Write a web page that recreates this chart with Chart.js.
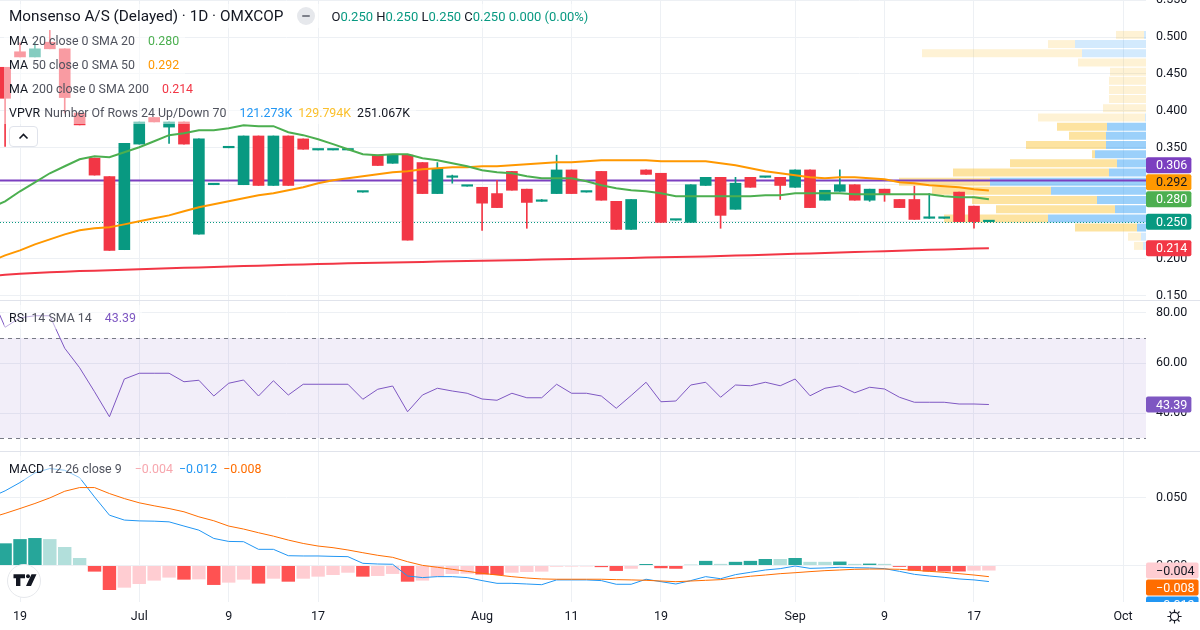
<!DOCTYPE html>
<html>
<head>
<meta charset="utf-8">
<title>Monsenso A/S · 1D · OMXCOP</title>
<script src="https://cdn.jsdelivr.net/npm/chart.js@4.4.1/dist/chart.umd.min.js"></script>
<style>
html,body{margin:0;padding:0;background:#fff;}
#wrap{position:relative;width:1200px;height:630px;overflow:hidden;background:#fff;font-family:"Trebuchet MS",Roboto,"Noto Sans",sans-serif;color:#131722;}
#wrap canvas{position:absolute;left:0;}
.sep{position:absolute;left:0;width:1200px;height:1px;background:#e0e3eb;}
.lg{position:absolute;left:4px;height:24px;padding:0 6px 0 5px;display:flex;align-items:center;white-space:nowrap;font-size:12.4px;background:rgba(255,255,255,0.5);}
.nm{color:#131722;}
.ar{color:#50535e;margin-left:4px;}
.v1{margin-left:13px;}
.v2{margin-left:6px;}
.t{color:#089981;}
</style>
</head>
<body>
<div id="wrap">
  <canvas id="cMain" width="1200" height="300" style="top:0"></canvas>
  <div class="sep" style="top:300px"></div>
  <canvas id="cRsi" width="1200" height="150" style="top:301px"></canvas>
  <div class="sep" style="top:451px"></div>
  <canvas id="cMacd" width="1200" height="178" style="top:452px"></canvas>

  <div class="lg" style="top:4px;font-size:15.3px;">
    <span>Monsenso A/S (Delayed) · 1D · OMXCOP</span>
    <span style="display:inline-block;width:18px;height:18px;border-radius:50%;background:#e6e8ec;margin-left:14px;position:relative;"><span style="position:absolute;left:5px;top:8px;width:8px;height:2px;background:#7d808a;border-radius:1px;"></span></span>
    <span style="font-size:13px;margin-left:16px;">O<span class="t">0.250</span>&nbsp;H<span class="t">0.250</span>&nbsp;L<span class="t">0.250</span>&nbsp;C<span class="t">0.250</span>&nbsp;<span class="t">0.000 (0.00%)</span></span>
  </div>
  <div class="lg" style="top:28px;"><span class="nm">MA</span><span class="ar">20 close 0 SMA 20</span><span class="v1" style="color:#4caf50">0.280</span></div>
  <div class="lg" style="top:52px;"><span class="nm">MA</span><span class="ar">50 close 0 SMA 50</span><span class="v1" style="color:#ff9800">0.292</span></div>
  <div class="lg" style="top:76px;"><span class="nm">MA</span><span class="ar">200 close 0 SMA 200</span><span class="v1" style="color:#f23645">0.214</span></div>
  <div class="lg" style="top:100px;"><span class="nm">VPVR</span><span class="ar">Number Of Rows 24 Up/Down 70</span><span class="v1" style="color:#2196f3">121.273K</span><span class="v2" style="color:#fbc02d">129.794K</span><span class="v2" style="color:#131722">251.067K</span></div>
  <div style="position:absolute;left:9px;top:126px;width:27px;height:19px;border:1px solid #e0e3eb;border-radius:4px;background:#fff;">
    <svg width="27" height="19" viewBox="0 0 27 19"><path d="M9.5 11.5 L13.5 7.5 L17.5 11.5" fill="none" stroke="#131722" stroke-width="1.6"/></svg>
  </div>

  <div class="lg" style="top:305px;"><span class="nm">RSI</span><span class="ar">14 SMA 14</span><span class="v1" style="color:#7e57c2">43.39</span></div>
  <div class="lg" style="top:456px;"><span class="nm">MACD</span><span class="ar">12 26 close 9</span><span class="v1" style="color:#f7a7ae">−0.004</span><span class="v2" style="color:#2196f3">−0.012</span><span class="v2" style="color:#ff6d00">−0.008</span></div>

  <div style="position:absolute;left:7px;top:564px;width:32px;height:32px;border-radius:50%;background:#fff;border:1px solid #e6e8ec;">
    <svg width="32" height="32" viewBox="0 0 32 32"><path d="M5.5 9.3h11.5v4h-4.6v7.7h-4.4v-7.7h-2.5z M23.5 9.3h5l-5.5 11.7h-5z" fill="#131722"/><circle cx="20" cy="11.3" r="2" fill="#131722"/></svg>
  </div>
  <svg style="position:absolute;left:1166px;top:608px" width="17" height="17" viewBox="0 0 18 18"><g fill="none" stroke="#131722" stroke-width="1.2"><circle cx="9" cy="9" r="4.3"/><path d="M9 1.5v3M9 13.5v3M1.5 9h3M13.5 9h3M3.7 3.7l2.1 2.1M12.2 12.2l2.1 2.1M3.7 14.3l2.1-2.1M12.2 5.8l2.1-2.1"/></g></svg>
</div>

<script>
// ---------------- data ----------------
const dates = ["2025-06-17","2025-06-18","2025-06-19","2025-06-20","2025-06-23","2025-06-24","2025-06-25","2025-06-26","2025-06-27","2025-06-30",
 "2025-07-01","2025-07-02","2025-07-03","2025-07-04","2025-07-07","2025-07-08","2025-07-09","2025-07-10","2025-07-11","2025-07-14",
 "2025-07-15","2025-07-16","2025-07-17","2025-07-18","2025-07-21","2025-07-22","2025-07-23","2025-07-24","2025-07-25","2025-07-28",
 "2025-07-29","2025-07-30","2025-07-31","2025-08-01","2025-08-04","2025-08-05","2025-08-06","2025-08-07","2025-08-08","2025-08-11",
 "2025-08-12","2025-08-13","2025-08-14","2025-08-15","2025-08-18","2025-08-19","2025-08-20","2025-08-21","2025-08-22","2025-08-25",
 "2025-08-26","2025-08-27","2025-08-28","2025-08-29","2025-09-01","2025-09-02","2025-09-03","2025-09-04","2025-09-05","2025-09-08",
 "2025-09-09","2025-09-10","2025-09-11","2025-09-12","2025-09-15","2025-09-16","2025-09-17","2025-09-18"];

const tickLabels = ["19","Jul","9","17","Aug","11","19","Sep","9","17","Oct"];
const tickBars   = [2,10,16,22,33,39,45,54,60,66,76]; // bar index of each time tick (Oct 1 lies after the data)

const open  = [null,0.459,0.480,0.473,0.493,0.484,0.397,0.336,0.311,0.212,
 0.355,0.391,0.378,0.385,0.233,0.300,0.350,0.300,0.366,0.299,
 0.366,0.362,0.347,0.347,0.347,0.290,0.340,0.329,0.340,0.330,
 0.288,0.310,0.298,0.2965,0.288,0.318,0.294,0.2775,0.288,0.320,
 0.290,0.318,0.2775,0.2395,0.320,0.3155,0.252,0.249,0.299,0.310,
 0.2667,0.310,0.310,0.310,0.2965,0.320,0.279,0.291,0.300,0.279,
 0.294,0.280,0.280,0.2545,0.2545,0.290,0.271,0.250];
const high  = [null,0.459,0.492,0.493,0.509,0.484,0.397,0.336,0.311,0.356,
 0.385,0.391,0.385,0.385,0.362,0.300,0.350,0.366,0.366,0.366,
 0.366,0.362,0.347,0.347,0.347,0.290,0.340,0.340,0.340,0.330,
 0.330,0.313,0.298,0.2965,0.306,0.318,0.294,0.280,0.340,0.320,
 0.290,0.318,0.2775,0.280,0.320,0.3155,0.252,0.300,0.310,0.310,
 0.310,0.310,0.310,0.310,0.320,0.320,0.2925,0.320,0.300,0.294,
 0.294,0.280,0.298,0.288,0.2545,0.290,0.271,0.250];
const low   = [null,0.352,0.473,0.473,0.484,0.397,0.381,0.313,0.211,0.212,
 0.355,0.385,0.356,0.355,0.233,0.300,0.350,0.300,0.299,0.299,
 0.299,0.348,0.347,0.347,0.347,0.290,0.326,0.329,0.225,0.288,
 0.288,0.302,0.298,0.238,0.269,0.2925,0.241,0.2775,0.288,0.288,
 0.290,0.279,0.2395,0.2395,0.314,0.249,0.252,0.249,0.299,0.241,
 0.2667,0.2965,0.310,0.280,0.2965,0.269,0.279,0.291,0.279,0.2775,
 0.2775,0.269,0.253,0.2545,0.2545,0.250,0.241,0.250];
const close = [null,0.417,0.473,0.484,0.484,0.418,0.381,0.313,0.211,0.356,
 0.385,0.385,0.385,0.355,0.362,0.300,0.350,0.366,0.299,0.366,
 0.299,0.348,0.347,0.347,0.347,0.290,0.326,0.340,0.225,0.288,
 0.322,0.310,0.298,0.275,0.269,0.2925,0.276,0.2775,0.320,0.288,
 0.290,0.279,0.2395,0.280,0.314,0.249,0.252,0.300,0.310,0.2585,
 0.302,0.2965,0.310,0.299,0.320,0.269,0.2925,0.300,0.279,0.294,
 0.288,0.269,0.253,0.2545,0.2545,0.250,0.250,0.250];

const ma20 = [0.2680,0.2775,0.2911,0.3033,0.3155,0.3250,0.3345,0.3386,0.3372,0.3440,
 0.3508,0.3589,0.3671,0.3698,0.3738,0.3738,0.3766,0.3806,0.3793,0.3793,
 0.3711,0.3671,0.3616,0.3549,0.3481,0.3413,0.3399,0.3413,0.3413,0.3359,
 0.3331,0.3291,0.3250,0.3196,0.3169,0.3155,0.3114,0.3087,0.3087,0.3087,
 0.3047,0.2992,0.2952,0.2925,0.2911,0.2884,0.2843,0.2843,0.2843,0.2843,
 0.2843,0.2843,0.2857,0.2857,0.2884,0.2884,0.2884,0.2884,0.2870,0.2870,
 0.2870,0.2870,0.2870,0.2870,0.2843,0.2830,0.2830,0.2802];
const ma50 = [0.1961,0.2043,0.2111,0.2192,0.2260,0.2328,0.2382,0.2409,0.2423,0.2463,
 0.2504,0.2545,0.2585,0.2640,0.2694,0.2735,0.2775,0.2816,0.2857,0.2884,
 0.2925,0.2965,0.3019,0.3060,0.3087,0.3114,0.3142,0.3169,0.3182,0.3209,
 0.3223,0.3236,0.3236,0.3250,0.3250,0.3264,0.3277,0.3291,0.3304,0.3304,
 0.3318,0.3331,0.3331,0.3331,0.3331,0.3318,0.3318,0.3318,0.3318,0.3291,
 0.3264,0.3223,0.3182,0.3155,0.3128,0.3101,0.3087,0.3101,0.3101,0.3087,
 0.3074,0.3033,0.3019,0.2992,0.2979,0.2965,0.2938,0.2922];
const ma200 = [0.1765,0.1780,0.1795,0.1805,0.1815,0.1822,0.1830,0.1836,0.1843,0.1850,
 0.1856,0.1862,0.1868,0.1874,0.1880,0.1886,0.1892,0.1898,0.1904,0.1910,
 0.1916,0.1921,0.1926,0.1930,0.1935,0.1939,0.1943,0.1947,0.1951,0.1955,
 0.1959,0.1963,0.1967,0.1971,0.1975,0.1978,0.1982,0.1986,0.1990,0.1994,
 0.1998,0.2002,0.2005,0.2009,0.2013,0.2017,0.2021,0.2025,0.2029,0.2035,
 0.2040,0.2046,0.2052,0.2058,0.2064,0.2070,0.2076,0.2082,0.2088,0.2094,
 0.2100,0.2106,0.2112,0.2118,0.2124,0.2130,0.2135,0.2140];

// Volume profile (visible range), rows top to bottom
const vpPrice = [0.5028,0.4904,0.4780,0.4656,0.4531,0.4407,0.4283,0.4159,0.4034,0.3910,0.3786,0.3662,
                 0.3538,0.3413,0.3289,0.3165,0.3041,0.2917,0.2793,0.2668,0.2544,0.2420,0.2296,0.2172];
const vpUp   = [200,7100,6400,0,0,0,0,0,0,100,3900,4000,4000,5100,2900,3700,15600,9500,4900,3100,9800,900,500,300];
const vpDown = [2800,2700,16000,6800,3600,3700,3700,3700,4300,10700,5000,3700,8000,300,10700,15600,9100,11900,12500,11900,10400,6200,1300,900];
const vaHigh = 0.385, vaLow = 0.236;   // value area (70%)
const pocPrice = 0.3056;

const rsi = [88.0,74.3,78.1,78.9,78.9,65.9,58.1,48.5,38.5,53.6,
 55.9,55.9,55.9,52.5,53.1,46.8,51.9,53.2,46.8,52.9,
 47.2,51.5,51.5,51.5,51.5,45.5,49.5,50.8,40.5,47.2,
 49.9,48.8,47.9,45.6,45.1,47.9,46.1,46.1,51.5,47.9,
 47.9,46.8,41.9,47.0,52.3,44.5,44.8,51.2,52.3,46.3,
 51.2,50.9,52.3,50.9,53.6,46.9,49.9,50.9,48.1,50.3,
 49.6,46.3,44.3,44.3,44.3,43.6,43.6,43.39];
const rsiUpper = 70, rsiLower = 30;

const macd = [0.0500,0.0549,0.0610,0.0681,0.0713,0.0700,0.0646,0.0504,0.0370,0.0334,
 0.0328,0.0326,0.0321,0.0290,0.0260,0.0199,0.0177,0.0175,0.0119,0.0119,
 0.0072,0.0070,0.0070,0.0067,0.0065,0.0016,0.0011,0.0009,-0.0077,-0.0089,
 -0.0082,-0.0082,-0.0089,-0.0111,-0.0131,-0.0131,-0.0136,-0.0141,-0.0106,-0.0106,
 -0.0106,-0.0111,-0.0138,-0.0138,-0.0101,-0.0119,-0.0136,-0.0111,-0.0082,-0.0097,
 -0.0067,-0.0050,-0.0033,-0.0023,-0.0004,-0.0021,-0.0018,-0.0013,-0.0016,-0.0018,
 -0.0023,-0.0043,-0.0065,-0.0077,-0.0087,-0.0099,-0.0106,-0.0118];
const signal = [0.0350,0.0383,0.0419,0.0456,0.0497,0.0546,0.0573,0.0573,0.0529,0.0492,
 0.0461,0.0439,0.0419,0.0395,0.0358,0.0329,0.0290,0.0268,0.0241,0.0216,
 0.0187,0.0162,0.0143,0.0131,0.0114,0.0094,0.0075,0.0060,0.0028,0.0001,
 -0.0013,-0.0028,-0.0043,-0.0057,-0.0070,-0.0082,-0.0092,-0.0099,-0.0101,-0.0101,
 -0.0101,-0.0101,-0.0104,-0.0106,-0.0109,-0.0114,-0.0119,-0.0114,-0.0109,-0.0104,
 -0.0092,-0.0079,-0.0070,-0.0060,-0.0053,-0.0045,-0.0038,-0.0033,-0.0028,-0.0026,
 -0.0026,-0.0028,-0.0035,-0.0043,-0.0050,-0.0060,-0.0070,-0.0082];
const hist = [0.0130,0.0163,0.0194,0.0202,0.0194,0.0136,0.0055,-0.0045,-0.0180,-0.0163,
 -0.0136,-0.0111,-0.0089,-0.0104,-0.0102,-0.0143,-0.0126,-0.0104,-0.0133,-0.0097,
 -0.0119,-0.0097,-0.0082,-0.0070,-0.0053,-0.0082,-0.0077,-0.0062,-0.0119,-0.0111,
 -0.0082,-0.0062,-0.0060,-0.0066,-0.0070,-0.0053,-0.0048,-0.0045,-0.0009,-0.0008,
 -0.0007,-0.0012,-0.0040,-0.0024,0.0011,-0.0020,-0.0024,0.0005,0.0034,0.0012,
 0.0027,0.0034,0.0048,0.0048,0.0055,0.0027,0.0027,0.0029,0.0012,0.0014,
 0.0012,-0.0010,-0.0038,-0.0044,-0.0044,-0.0044,-0.0038,-0.0037];

const priceTicks = [0.15,0.20,0.25,0.30,0.35,0.40,0.45,0.50,0.55];
const rsiTicks = [40,60,80];
const macdTicks = [0,0.05];

// ---------------- setup ----------------
const FONT = '"Trebuchet MS", Roboto, "Noto Sans", sans-serif';
Chart.defaults.font.family = FONT;
Chart.defaults.font.size = 12;
Chart.defaults.color = '#131722';
Chart.defaults.animation = false;

const GRID = '#edf0f4';
const UP = '#089981', DOWN = '#f23645';
const AXIS_W = 54;
const X_MIN = 0.658, X_MAX = 77.54;
const VP_MAX = 114600;
const last = dates.length - 1;
const fmt3 = v => (v < 0 ? '\u2212' : '') + Math.abs(v).toFixed(3);

function xAxis(showLabels) {
  return {
    type: 'linear', min: X_MIN, max: X_MAX, offset: false,
    afterBuildTicks: s => { s.ticks = tickBars.map(v => ({ value: v })); },
    ticks: { display: showLabels, autoSkip: false, maxRotation: 0, padding: 7,
             callback: (v, i) => tickLabels[i], color: '#131722', font: { size: 12.5 } },
    grid: { color: GRID, drawTicks: false, offset: false },
    border: { display: false },
    afterFit: s => { s.height = showLabels ? 28 : 0; s.paddingLeft = 0; s.paddingRight = 0; }
  };
}
function yAxis(min, max, ticks, digits) {
  return {
    type: 'linear', position: 'right', min, max, offset: false,
    afterBuildTicks: s => { s.ticks = ticks.map(v => ({ value: v })); },
    ticks: { padding: 10, crossAlign: 'near', color: '#131722', font: { size: 12.5 },
             callback: v => v.toFixed(digits) },
    grid: { color: GRID, drawTicks: false, offset: false },
    border: { display: false },
    afterFit: s => { s.width = AXIS_W; s.paddingTop = 0; s.paddingBottom = 0; }
  };
}
function roundRect(ctx, x, y, w, h, r) {
  ctx.beginPath();
  ctx.moveTo(x + r, y); ctx.lineTo(x + w - r, y); ctx.quadraticCurveTo(x + w, y, x + w, y + r);
  ctx.lineTo(x + w, y + h - r); ctx.quadraticCurveTo(x + w, y + h, x + w - r, y + h);
  ctx.lineTo(x + r, y + h); ctx.quadraticCurveTo(x, y + h, x, y + h - r);
  ctx.lineTo(x, y + r); ctx.quadraticCurveTo(x, y, x + r, y); ctx.closePath();
}
function drawTags(chart, items, dir, clip) {
  const { ctx, chartArea: a } = chart;
  const ys = chart.scales.y;
  const H = 17;
  ctx.save();
  if (clip) { ctx.beginPath(); ctx.rect(a.right, a.top, chart.width - a.right, a.bottom - a.top); ctx.clip(); }
  ctx.font = '12.5px ' + FONT;
  const its = items.map(it => Object.assign({}, it, { y: ys.getPixelForValue(it.v) }));
  if (dir === 'up') {
    its.sort((p, q) => q.y - p.y);
    for (let i = 1; i < its.length; i++) its[i].y = Math.min(its[i].y, its[i - 1].y - H);
  } else {
    its.sort((p, q) => p.y - q.y);
    for (let i = 1; i < its.length; i++) its[i].y = Math.max(its[i].y, its[i - 1].y + H);
  }
  its.forEach(it => {
    const w = Math.max(44, ctx.measureText(it.text).width + 14);
    ctx.fillStyle = it.bg;
    roundRect(ctx, a.right, it.y - H / 2 + 0.5, w, H - 1, 2); ctx.fill();
    ctx.fillStyle = it.fg; ctx.textBaseline = 'middle'; ctx.textAlign = 'left';
    ctx.fillText(it.text, a.right + 10, it.y + 1);
  });
  ctx.restore();
}
const baseOpts = {
  responsive: false, maintainAspectRatio: false, animation: false, events: [],
  layout: { padding: 0 },
  plugins: { legend: { display: false }, tooltip: { enabled: false } }
};

// ---------------- main price pane ----------------
const candles = dates.map((d, i) => open[i] == null ? null :
  { i, o: open[i], h: high[i], l: low[i], c: close[i] }).filter(Boolean);
const candleColors = candles.map(c => c.c >= c.o ? UP : DOWN);
const inVA = p => p <= vaHigh && p >= vaLow;
const POC_COLOR = '#7b3fc0';

const mainLines = {
  id: 'mainLines',
  beforeDatasetDraw(chart, args) {
    if (chart.data.datasets[args.index].kind !== 'wick') return;
    const { ctx, chartArea: a } = chart; const ys = chart.scales.y;
    ctx.save();
    ctx.beginPath(); ctx.rect(a.left, a.top, a.width, a.height); ctx.clip();
    const yl = Math.round(ys.getPixelForValue(close[last])) + 0.5;
    ctx.strokeStyle = UP; ctx.lineWidth = 1; ctx.setLineDash([1, 2]);
    ctx.beginPath(); ctx.moveTo(a.left, yl); ctx.lineTo(a.right, yl); ctx.stroke();
    ctx.setLineDash([]);
    const yp = ys.getPixelForValue(pocPrice);
    ctx.strokeStyle = POC_COLOR; ctx.lineWidth = 2;
    ctx.beginPath(); ctx.moveTo(a.left, yp); ctx.lineTo(a.right, yp); ctx.stroke();
    ctx.restore();
  },
  afterDraw(chart) {
    drawTags(chart, [
      { v: pocPrice, text: fmt3(pocPrice), bg: POC_COLOR, fg: '#ffffff' },
      { v: ma50[last], text: fmt3(ma50[last]), bg: '#ff9800', fg: '#131722' },
      { v: ma20[last], text: fmt3(ma20[last]), bg: '#4caf50', fg: '#ffffff' },
      { v: close[last], text: fmt3(close[last]), bg: UP, fg: '#ffffff' },
      { v: ma200[last], text: fmt3(ma200[last]), bg: '#f23645', fg: '#ffffff' }
    ], 'up', false);
  }
};

const line = (arr, color, width, order) => ({
  type: 'line', data: arr.map((v, i) => ({ x: i, y: v })), borderColor: color, borderWidth: width,
  pointRadius: 0, fill: false, tension: 0, order, xAxisID: 'x', yAxisID: 'y'
});

new Chart(document.getElementById('cMain'), {
  type: 'bar',
  data: { datasets: [
    { type: 'bar', kind: 'vpUp', indexAxis: 'y', xAxisID: 'xv', yAxisID: 'y', grouped: false, order: 10,
      data: vpPrice.map((p, i) => ({ y: p, x: [0, vpUp[i]] })),
      backgroundColor: vpPrice.map(p => inVA(p) ? 'rgba(33,150,243,0.45)' : 'rgba(33,150,243,0.2)'),
      barThickness: 8, borderWidth: 0, inflateAmount: 0 },
    { type: 'bar', kind: 'vpDown', indexAxis: 'y', xAxisID: 'xv', yAxisID: 'y', grouped: false, order: 10,
      data: vpPrice.map((p, i) => ({ y: p, x: [vpUp[i], vpUp[i] + vpDown[i]] })),
      backgroundColor: vpPrice.map(p => inVA(p) ? 'rgba(251,192,45,0.45)' : 'rgba(251,192,45,0.2)'),
      barThickness: 8, borderWidth: 0, inflateAmount: 0 },
    { type: 'bar', kind: 'wick', xAxisID: 'x', yAxisID: 'y', grouped: false, order: 5,
      data: candles.map(c => ({ x: c.i, y: [c.l, c.h] })), backgroundColor: candleColors,
      barThickness: 1, borderWidth: 0, minBarLength: 0 },
    { type: 'bar', kind: 'body', xAxisID: 'x', yAxisID: 'y', grouped: false, order: 4,
      data: candles.map(c => ({ x: c.i, y: [c.o, c.c] })), backgroundColor: candleColors,
      barThickness: 11, borderWidth: 0, minBarLength: 1.5 },
    line(ma200, '#f23645', 2, 3),
    line(ma50, '#ff9800', 2, 2),
    line(ma20, '#4caf50', 2, 1)
  ] },
  options: Object.assign({}, baseOpts, {
    scales: {
      x: xAxis(false),
      xv: { type: 'linear', axis: 'x', display: false, reverse: true, min: 0, max: VP_MAX, offset: false },
      y: yAxis(0.1439, 0.5501, priceTicks, 3)
    }
  }),
  plugins: [mainLines]
});

// ---------------- RSI pane ----------------
const rsiPlugin = {
  id: 'rsiBand',
  beforeDatasetsDraw(chart) {
    const { ctx, chartArea: a } = chart; const ys = chart.scales.y;
    const y1 = ys.getPixelForValue(rsiUpper), y2 = ys.getPixelForValue(rsiLower);
    ctx.save();
    ctx.fillStyle = 'rgba(126,87,194,0.1)';
    ctx.fillRect(a.left, y1, a.width, y2 - y1);
    ctx.strokeStyle = '#787b86'; ctx.lineWidth = 1; ctx.setLineDash([4, 4]);
    [y1, y2].forEach(y => { const yy = Math.round(y) + 0.5; ctx.beginPath(); ctx.moveTo(a.left, yy); ctx.lineTo(a.right, yy); ctx.stroke(); });
    ctx.restore();
  },
  afterDraw(chart) {
    drawTags(chart, [{ v: rsi[last], text: rsi[last].toFixed(2), bg: '#7e57c2', fg: '#ffffff' }], 'down', false);
  }
};
new Chart(document.getElementById('cRsi'), {
  type: 'line',
  data: { datasets: [ { data: rsi.map((v, i) => ({ x: i, y: v })), borderColor: '#7e57c2', borderWidth: 1,
                        pointRadius: 0, fill: false, tension: 0 } ] },
  options: Object.assign({}, baseOpts, {
    scales: { x: xAxis(false), y: yAxis(24.8, 84.8, rsiTicks, 2) }
  }),
  plugins: [rsiPlugin]
});

// ---------------- MACD pane ----------------
const histColors = hist.map((h, i) => {
  const p = i > 0 ? hist[i - 1] : h;
  return h >= 0 ? (p < h ? '#26a69a' : '#b2dfdb') : (p < h ? '#ffcdd2' : '#ff5252');
});
const macdPlugin = {
  id: 'macdTags',
  afterDraw(chart) {
    drawTags(chart, [
      { v: hist[last], text: fmt3(hist[last]), bg: '#ffcdd2', fg: '#131722' },
      { v: signal[last], text: fmt3(signal[last]), bg: '#ff6d00', fg: '#ffffff' },
      { v: macd[last], text: fmt3(macd[last]), bg: '#2196f3', fg: '#ffffff' }
    ], 'down', true);
  }
};
new Chart(document.getElementById('cMacd'), {
  type: 'bar',
  data: { datasets: [
    { type: 'bar', data: hist.map((v, i) => ({ x: i, y: v })), backgroundColor: histColors,
      barPercentage: 0.9, categoryPercentage: 1, borderWidth: 0, grouped: false, order: 3 },
    { type: 'line', data: macd.map((v, i) => ({ x: i, y: v })), borderColor: '#2196f3', borderWidth: 1,
      pointRadius: 0, fill: false, tension: 0, order: 2 },
    { type: 'line', data: signal.map((v, i) => ({ x: i, y: v })), borderColor: '#ff6d00', borderWidth: 1,
      pointRadius: 0, fill: false, tension: 0, order: 1 }
  ] },
  options: Object.assign({}, baseOpts, {
    scales: { x: xAxis(true), y: yAxis(-0.02684, 0.08346, macdTicks, 3) }
  }),
  plugins: [macdPlugin]
});
</script>
</body>
</html>
